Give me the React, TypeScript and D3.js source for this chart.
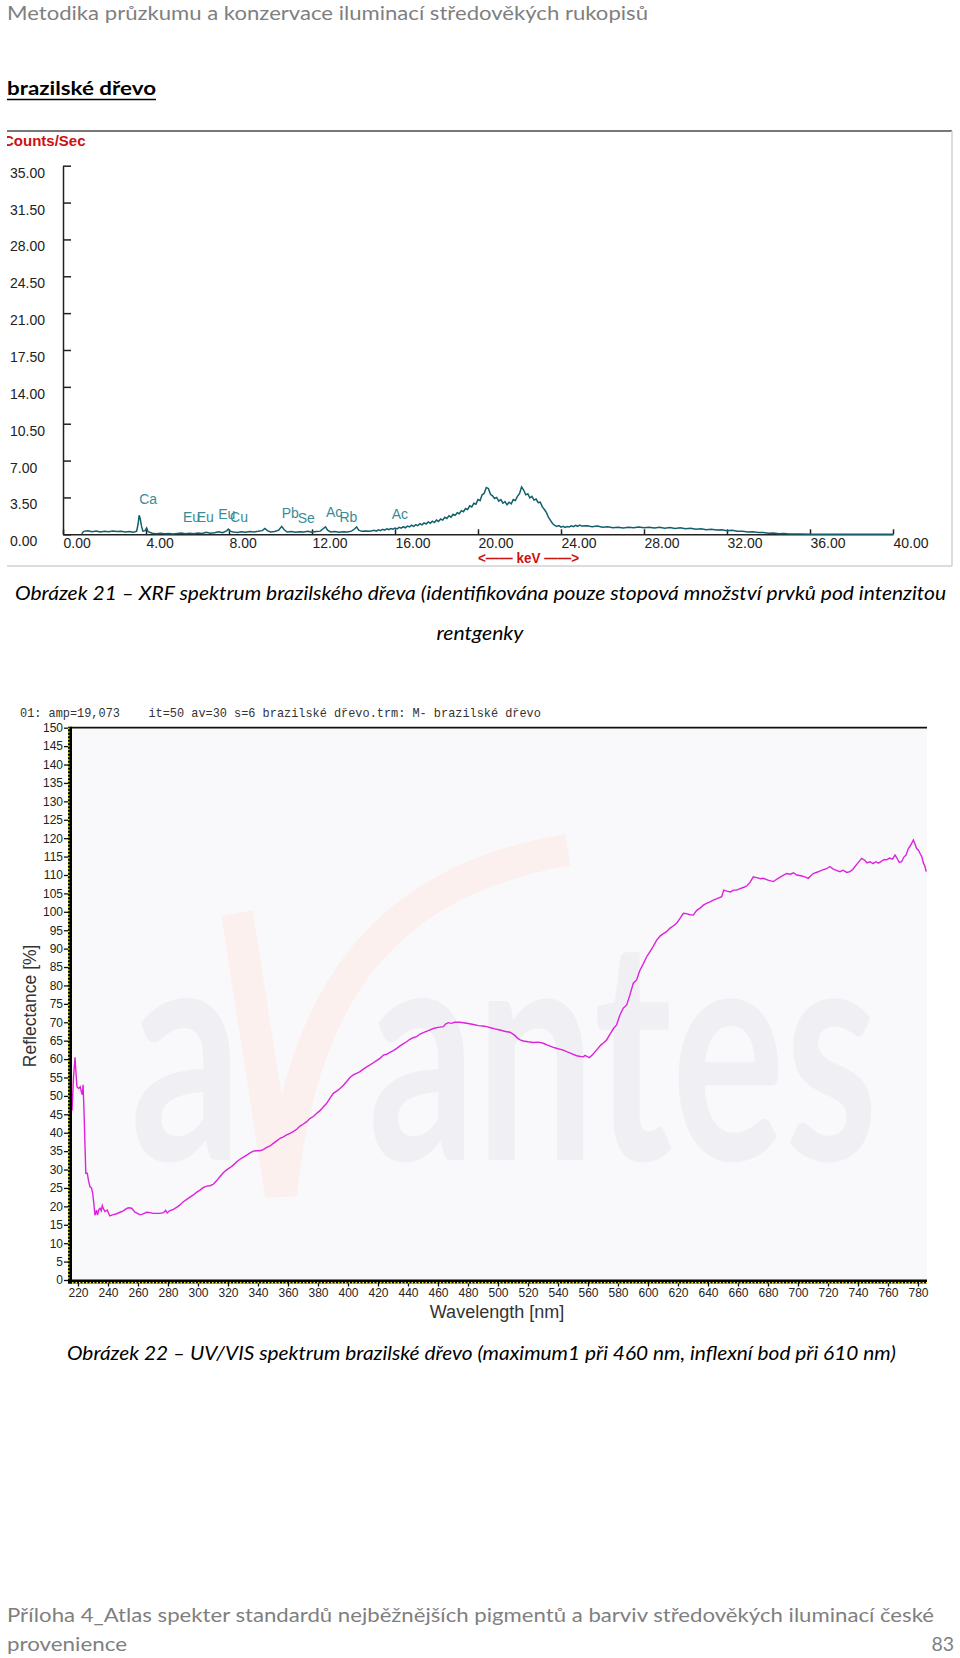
import React, { useRef, useEffect } from "react";
import * as d3 from "d3";

// XRF spectrum of brazilwood, [keV, counts/sec]
const xrfSpectrum: [number, number][] = [
  [0.9, 0.05], [1.0, 0.28], [1.2, 0.34], [1.4, 0.24], [1.6, 0.32], [1.8, 0.22], [2.0, 0.3], [2.2, 0.24],
  [2.4, 0.32], [2.6, 0.26], [2.8, 0.3], [3.0, 0.22], [3.2, 0.26], [3.4, 0.2], [3.55, 0.3], [3.62, 1.0],
  [3.67, 1.8], [3.72, 1.5], [3.78, 0.8], [3.85, 0.3], [3.95, 0.35], [4.03, 0.6], [4.1, 0.25], [4.3, 0.1],
  [4.5, 0.06], [4.7, 0.1], [4.9, 0.05], [5.1, 0.08], [5.3, 0.04], [5.5, 0.08], [5.7, 0.12], [5.9, 0.06],
  [6.1, 0.1], [6.3, 0.06], [6.5, 0.12], [6.7, 0.08], [6.9, 0.2], [7.1, 0.1], [7.3, 0.15], [7.5, 0.25],
  [7.7, 0.15], [7.9, 0.35], [7.97, 0.5], [8.05, 0.3], [8.2, 0.22], [8.4, 0.18], [8.6, 0.24], [8.8, 0.2],
  [9.0, 0.26], [9.2, 0.22], [9.4, 0.28], [9.6, 0.35], [9.73, 0.55], [9.85, 0.35], [10.0, 0.22], [10.2, 0.26],
  [10.4, 0.4], [10.54, 0.75], [10.65, 0.45], [10.8, 0.22], [11.0, 0.26], [11.2, 0.2], [11.4, 0.24], [11.6, 0.22],
  [11.8, 0.28], [12.0, 0.2], [12.2, 0.26], [12.4, 0.3], [12.55, 0.55], [12.65, 0.7], [12.75, 0.4], [12.9, 0.22],
  [13.1, 0.26], [13.3, 0.2], [13.5, 0.24], [13.7, 0.22], [13.9, 0.3], [14.05, 0.5], [14.15, 0.7], [14.25, 0.4],
  [14.4, 0.28], [14.6, 0.32], [14.8, 0.3],
  [15.0, 0.38], [15.1, 0.3], [15.2, 0.42], [15.3, 0.35], [15.4, 0.48], [15.5, 0.4], [15.6, 0.52], [15.7, 0.45],
  [15.8, 0.55], [15.9, 0.48], [16.0, 0.6], [16.1, 0.52], [16.2, 0.66], [16.3, 0.58], [16.4, 0.72], [16.5, 0.62],
  [16.6, 0.78], [16.7, 0.7], [16.8, 0.86], [16.9, 0.76], [17.0, 0.92], [17.1, 0.82], [17.2, 1.0], [17.3, 0.9],
  [17.4, 1.08], [17.5, 0.98], [17.6, 1.18], [17.7, 1.05], [17.8, 1.25], [17.9, 1.12], [18.0, 1.35], [18.1, 1.22],
  [18.2, 1.45], [18.3, 1.35], [18.4, 1.62], [18.5, 1.5], [18.6, 1.75], [18.7, 1.62], [18.8, 1.9], [18.9, 1.8],
  [19.0, 2.05], [19.1, 1.95], [19.2, 2.25], [19.3, 2.15], [19.4, 2.45], [19.5, 2.35], [19.6, 2.7], [19.7, 2.6],
  [19.8, 2.95], [19.9, 2.85], [20.0, 3.3], [20.1, 3.2], [20.2, 3.75], [20.3, 3.9], [20.4, 4.45], [20.5, 4.35],
  [20.6, 3.8], [20.7, 3.65], [20.8, 3.4], [20.9, 3.5], [21.0, 3.15], [21.1, 3.3], [21.2, 2.95], [21.3, 3.1],
  [21.4, 2.8], [21.5, 3.05], [21.6, 2.9], [21.7, 3.3], [21.8, 3.2], [21.9, 3.6], [22.0, 3.85], [22.1, 4.5],
  [22.2, 4.2], [22.3, 3.75], [22.4, 3.85], [22.5, 3.45], [22.6, 3.6], [22.7, 3.25], [22.8, 3.35], [22.9, 3.0],
  [23.0, 3.05], [23.1, 2.6], [23.2, 2.35], [23.3, 2.05], [23.4, 1.6], [23.5, 1.3], [23.6, 1.0], [23.7, 0.85],
  [23.8, 0.75], [23.9, 0.82], [24.0, 0.68], [24.1, 0.76], [24.2, 0.66], [24.3, 0.74], [24.4, 0.7], [24.5, 0.8],
  [24.6, 0.72], [24.7, 0.85], [24.8, 0.76], [24.9, 0.88], [25.0, 0.78],
  [25.25, 0.82], [25.5, 0.72], [25.75, 0.78], [26.0, 0.66], [26.25, 0.72], [26.5, 0.62], [26.75, 0.68], [27.0, 0.6],
  [27.25, 0.66], [27.5, 0.62], [27.75, 0.7], [28.0, 0.63], [28.25, 0.68], [28.5, 0.6], [28.75, 0.66], [29.0, 0.58],
  [29.25, 0.64], [29.5, 0.56], [29.75, 0.62], [30.0, 0.52], [30.25, 0.58], [30.5, 0.48], [30.75, 0.52], [31.0, 0.44],
  [31.25, 0.48], [31.5, 0.4], [31.75, 0.42], [32.0, 0.34], [32.25, 0.38], [32.5, 0.28], [32.75, 0.3], [33.0, 0.22],
  [33.25, 0.24], [33.5, 0.16], [33.75, 0.16], [34.0, 0.1], [34.25, 0.12], [34.5, 0.06], [34.75, 0.07], [35.0, 0.03],
  [35.5, 0.02], [36.0, 0], [40.0, 0],
];

const xrfTicksX = [0, 4, 8, 12, 16, 20, 24, 28, 32, 36, 40];
const xrfTicksY = [0, 3.5, 7, 10.5, 14, 17.5, 21, 24.5, 28, 31.5, 35];

// element line markers: name, energy (keV), label height (counts/sec)
const xrfElements = ["Ca", "Eu", "Eu", "Eu", "Cu", "Pb", "Se", "Ac", "Rb", "Ac"];
const xrfElementKeV = [3.67, 5.78, 6.44, 7.48, 8.05, 10.54, 11.31, 12.67, 13.32, 15.84];
const xrfElementLevel = [2.85, 1.14, 1.14, 1.43, 1.14, 1.52, 1.05, 1.62, 1.14, 1.43];

// UV/VIS reflectance, [nm, %]
const uvSpectrum: [number, number][] = [
  [216, 46], [217, 55], [218, 60.5], [218.7, 56], [219.3, 52.5], [220.5, 52], [221.5, 52.5], [222.3, 51],
  [222.9, 50.3], [223.4, 53], [224, 46], [224.7, 36], [225.2, 29], [226.2, 29], [227, 27], [228, 25.3],
  [229, 25], [229.8, 23.5], [230.5, 21], [231.3, 17.6], [232.4, 19], [233, 17.6], [234, 19.2], [234.7, 19.5],
  [235.5, 18.8], [236.2, 20.2], [237, 19.3], [238, 18.6], [239.5, 19], [240.5, 18], [241.3, 17.4], [243, 17.7],
  [245.8, 18], [248, 18.4], [250.2, 18.8], [252, 19.3], [253.5, 19.6], [255.8, 19.5], [257, 18.9], [258, 18.4],
  [260, 18], [261.3, 17.7], [263, 17.9], [265.8, 18.4], [268, 18.3], [270.2, 18.1], [274.7, 18.1], [277, 18.3],
  [278.4, 18.9], [279.5, 18.2], [281, 18.8], [283.6, 19.2], [286, 19.8], [288, 20.4], [290, 21.2], [292.5, 21.9],
  [294.7, 22.5], [296.9, 23.1], [299, 23.8], [301.3, 24.4], [303.5, 25.1], [305.8, 25.5], [308, 25.6], [310.2, 26],
  [312.5, 27], [314.7, 28.1], [317, 29.2], [319.1, 29.9], [321.3, 30.5], [323.5, 31.2], [326, 32.2], [328, 32.8],
  [330, 33.3], [332.5, 33.9], [334.7, 34.5], [336.9, 35], [339, 35.1], [341.3, 35.1], [343.5, 35.4], [345.8, 36],
  [348, 36.4], [350.2, 37.1], [352.5, 37.8], [354.7, 38.5], [357, 38.9], [359.1, 39.4], [361.3, 39.8], [363.5, 40.3],
  [366, 41], [368, 41.8], [370, 42.3], [372.5, 43], [374.7, 43.9], [376.9, 44.4], [379, 45.2], [381.3, 46],
  [383.5, 47], [385.8, 48], [388, 49.4], [390.2, 50.7], [392.5, 51.3], [394.7, 52], [397, 52.9], [399.1, 53.9],
  [401.3, 55], [403.5, 55.7], [406, 56.2], [408, 56.6], [410, 57.2], [412.5, 57.9], [415, 58.5], [416.9, 59],
  [419, 59.6], [421.3, 60.2], [423.6, 61.1], [425.8, 61.3], [428, 61.8], [430.2, 62.3], [432.5, 62.9], [434.7, 63.6],
  [437, 64.2], [439.1, 64.7], [441, 65.3], [443.5, 65.8], [445.8, 66.1], [448, 66.8], [451, 67.3], [454, 67.8],
  [456.9, 68.3], [460, 68.6], [463.6, 68.8], [465, 69.5], [466.9, 69.9], [469, 69.7], [471, 70], [474.7, 70],
  [478, 69.8], [481, 69.6], [483.6, 69.4], [487, 69.1], [490, 69], [492.4, 68.8], [495, 68.5], [498, 68.2],
  [501.3, 67.9], [505, 67.5], [508, 67.3], [511, 66.5], [513, 65.7], [514.7, 65.2], [517, 64.9], [520, 64.7],
  [523.6, 64.5], [527, 64.6], [530.2, 64.3], [533, 63.8], [536.9, 63.2], [540, 62.8], [543, 62.5], [545.8, 62],
  [549, 61.5], [552.4, 60.9], [555, 60.7], [556.9, 60.6], [558, 61], [559.5, 60.7], [560.9, 60.4], [563, 61.2],
  [565.8, 62.5], [568.5, 63.8], [570, 64.3], [572.4, 65.2], [575, 67], [577, 68.3], [579.1, 69.3], [581.3, 72],
  [583.5, 73.8], [585.8, 74.7], [588, 77.5], [590.2, 80.6], [592.4, 81.5], [594.5, 84], [597, 86], [599.1, 87.8],
  [601, 89], [603.5, 90.6], [605.8, 92.3], [608, 93.4], [610, 94], [612.4, 94.6], [614.5, 95.5], [617, 96.2],
  [619.1, 96.9], [621, 98], [623.6, 99.6], [625.5, 99.5], [628, 99.2], [630.2, 99.1], [632.5, 100.4], [634.7, 101],
  [636.9, 101.8], [639, 102.3], [641.3, 102.7], [643.6, 103.2], [646, 103.6], [649.1, 104.1], [650.5, 105.9], [652.5, 105.6],
  [655, 105.4], [657, 105.9], [659.1, 105.9], [661, 106.2], [663.5, 106.6], [665.8, 107], [668, 108], [670.2, 109.5],
  [672.5, 109.3], [675, 109], [676.9, 109.1], [680, 108.6], [683.6, 108.2], [686, 108.9], [689, 109.6], [692.4, 110.4],
  [695, 110.2], [697, 110.6], [699.1, 110], [702, 109.8], [704.5, 109.5], [706.9, 109.1], [708.5, 109.8], [710.2, 110.4],
  [713, 110.8], [716, 111.3], [719, 111.7], [721.3, 112.3], [723.5, 111.6], [726, 111.2], [728, 110.9], [730, 111.3],
  [732.5, 110.7], [734.7, 110.9], [736.5, 111.5], [738, 112.3], [740, 113.3], [742.4, 114.5], [744.5, 114], [746, 113.3],
  [748, 113.6], [750, 113.1], [752, 113.6], [753.6, 113.2], [755.5, 113.7], [757.5, 114.2], [759.1, 114.1], [761, 114.6],
  [763, 114.3], [764.7, 115.4], [766, 114.6], [767.5, 113.4], [769.1, 113.6], [770.5, 114.8], [772, 115.4], [773.6, 117.2],
  [775, 118], [776.9, 119.5], [778, 118.4], [779.1, 117.2], [780.2, 116.8], [781.3, 115.9], [782.5, 115], [783.6, 113.2],
  [784.5, 112.5], [785.5, 110.9],
];

const uvTicksX = [220, 240, 260, 280, 300, 320, 340, 360, 380, 400, 420, 440, 460, 480, 500,
  520, 540, 560, 580, 600, 620, 640, 660, 680, 700, 720, 740, 760, 780];
const uvTicksY = d3.range(0, 151, 5);

const SANS = "'Liberation Sans', Arial, sans-serif";
const BODY = "Lato, 'Open Sans', sans-serif";

const App = () => {
  const svgRef = useRef<SVGSVGElement>(null);

  useEffect(() => {
    const svg = d3.select(svgRef.current);
    svg.selectAll("*").remove();
    const defs = svg.append("defs");

    // ---- page text ----
    const pageText = (x: number, y: number, str: string, o: any = {}) => {
      const t = svg
        .append("text")
        .attr("x", x)
        .attr("y", y)
        .attr("font-family", BODY)
        .attr("font-size", o.size || 19.5)
        .attr("fill", o.fill || "#000")
        .text(str);
      if (o.italic) t.attr("font-style", "italic");
      if (o.bold) t.attr("font-weight", "bold");
      if (o.anchor) t.attr("text-anchor", o.anchor);
      if (o.len) t.attr("textLength", o.len).attr("lengthAdjust", "spacingAndGlyphs");
      return t;
    };

    pageText(7, 20, "Metodika průzkumu a konzervace iluminací středověkých rukopisů", { fill: "#7f7f7f", len: 641 });
    pageText(7, 95, "brazilské dřevo", { bold: true, len: 149 });
    svg.append("line").attr("x1", 7).attr("x2", 156).attr("y1", 99.5).attr("y2", 99.5)
      .attr("stroke", "#000").attr("stroke-width", 1.4);
    pageText(15, 600, "Obrázek 21 – XRF spektrum brazilského dřeva (identifikována pouze stopová množství prvků pod intenzitou", { italic: true, len: 931 });
    pageText(480, 640, "rentgenky", { italic: true, anchor: "middle", len: 87 });
    pageText(67, 1360, "Obrázek 22 – UV/VIS spektrum brazilské dřevo (maximum1 při 460 nm, inflexní bod při 610 nm)", { italic: true, len: 829 });
    pageText(7, 1622, "Příloha 4_Atlas spekter standardů nejběžnějších pigmentů a barviv středověkých iluminací české", { fill: "#7f7f7f", len: 927 });
    pageText(7, 1651, "provenience", { fill: "#7f7f7f", len: 120 });
    pageText(954, 1651, "83", { fill: "#7f7f7f", anchor: "end" });

    // ---- XRF spectrum ----
    defs.append("clipPath").attr("id", "xrfClip")
      .append("rect").attr("x", 7).attr("y", 120).attr("width", 950).attr("height", 450);
    const xrf = svg.append("g").attr("clip-path", "url(#xrfClip)");

    xrf.append("line").attr("x1", 7).attr("x2", 952).attr("y1", 131).attr("y2", 131)
      .attr("stroke", "#4a4a4a").attr("stroke-width", 1.5);
    xrf.append("line").attr("x1", 952).attr("x2", 952).attr("y1", 131).attr("y2", 566)
      .attr("stroke", "#d0d0d0").attr("stroke-width", 1.5);
    xrf.append("line").attr("x1", 7).attr("x2", 952).attr("y1", 566).attr("y2", 566)
      .attr("stroke", "#d0d0d0").attr("stroke-width", 1.5);

    xrf.append("text").attr("x", 3).attr("y", 146).text("Counts/Sec")
      .attr("font-family", SANS).attr("font-weight", "bold").attr("font-size", 15).attr("fill", "#cc1111");

    const x = d3.scaleLinear().domain([0, 40]).range([63, 893]);
    const y = d3.scaleLinear().domain([0, 35]).range([534.3, 165.7]);

    const xAxis = xrf.append("g").attr("transform", `translate(0,${y(0)})`)
      .call(d3.axisBottom(x).tickValues(xrfTicksX).tickSize(-5).tickSizeOuter(0).tickPadding(4).tickFormat(d3.format(".2f")));
    const yAxis = xrf.append("g").attr("transform", `translate(${x(0)},0)`)
      .call(d3.axisLeft(y).tickValues(xrfTicksY).tickSize(-8).tickSizeOuter(0).tickPadding(0).tickFormat(d3.format(".2f")));
    [xAxis, yAxis].forEach((a) => {
      a.select(".domain").attr("stroke", "#222").attr("stroke-width", 1.5);
      a.selectAll(".tick line").attr("stroke", "#222").attr("stroke-width", 1.5);
      a.selectAll("text").attr("text-anchor", "start").attr("font-family", SANS)
        .attr("font-size", 14).attr("fill", "#222");
    });
    yAxis.selectAll("text").attr("x", -53).attr("y", 7);

    xrf.append("path").datum(xrfSpectrum)
      .attr("d", d3.line<[number, number]>().x((d) => x(d[0])).y((d) => y(d[1])))
      .attr("fill", "none").attr("stroke", "#12606d").attr("stroke-width", 1.5);

    xrf.selectAll(".el").data(xrfElements).join("text")
      .attr("class", "el")
      .attr("x", (d, i) => x(xrfElementKeV[i]))
      .attr("y", (d, i) => y(xrfElementLevel[i]))
      .attr("font-family", SANS).attr("font-size", 14).attr("fill", "#3a8b98")
      .text((d) => d);

    xrf.append("text").attr("x", 478).attr("y", 563).text("<—— keV ——>")
      .attr("font-family", SANS).attr("font-weight", "bold").attr("font-size", 14).attr("fill", "#cc1111")
      .attr("textLength", 101).attr("lengthAdjust", "spacingAndGlyphs");

    // ---- UV/VIS reflectance ----
    const ux = d3.scaleLinear().domain([216, 786]).range([72, 927]);
    const uy = d3.scaleLinear().domain([0, 150]).range([1280, 727.7]);
    const [px0, px1] = ux.range();
    const [py0, py1] = uy.range();

    svg.append("text").attr("x", 20).attr("y", 717)
      .attr("font-family", "'Liberation Mono', 'DejaVu Sans Mono', monospace")
      .attr("font-size", 11.9).attr("fill", "#333").style("white-space", "pre")
      .text("01: amp=19,073    it=50 av=30 s=6 brazilské dřevo.trm: M- brazilské dřevo");

    svg.append("rect").attr("x", px0).attr("y", py1).attr("width", px1 - px0).attr("height", py0 - py1)
      .attr("fill", "#f9f9fb");

    // faint avantes watermark
    const wm = svg.append("g");
    wm.append("path").attr("d", "M237,913 L281,1195 C300,1000 380,880 568,850")
      .attr("fill", "none").attr("stroke", "#fcf0ee").attr("stroke-width", 32);
    wm.append("text").attr("x", 130).attr("y", 1160).text("a")
      .attr("font-family", BODY).attr("font-weight", "bold").attr("font-size", 310).attr("fill", "#f0f0f4")
      .attr("textLength", 112).attr("lengthAdjust", "spacingAndGlyphs");
    wm.append("text").attr("x", 368).attr("y", 1160).text("antes")
      .attr("font-family", BODY).attr("font-weight", "bold").attr("font-size", 310).attr("fill", "#f0f0f4")
      .attr("textLength", 510).attr("lengthAdjust", "spacingAndGlyphs");

    svg.append("line").attr("x1", px0 - 2).attr("x2", px1).attr("y1", py1).attr("y2", py1)
      .attr("stroke", "#111").attr("stroke-width", 1.8);

    svg.append("path").datum(uvSpectrum)
      .attr("d", d3.line<[number, number]>().x((d) => ux(d[0])).y((d) => uy(d[1])))
      .attr("fill", "none").attr("stroke", "#dd22dd").attr("stroke-width", 1.4);

    const uxAxis = svg.append("g").attr("transform", `translate(0,${py0 + 1.5})`)
      .call(d3.axisBottom(ux).tickValues(uvTicksX).tickSize(5).tickSizeOuter(0).tickPadding(2));
    const uyAxis = svg.append("g").attr("transform", `translate(${px0 - 2},0)`)
      .call(d3.axisLeft(uy).tickValues(uvTicksY).tickSize(6).tickSizeOuter(0).tickPadding(1));
    [uxAxis, uyAxis].forEach((a) => {
      a.select(".domain").remove();
      a.selectAll(".tick line").attr("stroke", "#111").attr("stroke-width", 1.3);
      a.selectAll("text").attr("font-family", SANS).attr("font-size", 12).attr("fill", "#222");
    });

    // thick axis lines with yellow dotted minor marks
    svg.append("line").attr("x1", px0 - 2).attr("x2", px0 - 2).attr("y1", py1 - 1).attr("y2", py0 + 3.5)
      .attr("stroke", "#000").attr("stroke-width", 4);
    svg.append("line").attr("x1", px0 - 4).attr("x2", px1).attr("y1", py0 + 1.5).attr("y2", py0 + 1.5)
      .attr("stroke", "#000").attr("stroke-width", 4);
    svg.append("line").attr("x1", px0 - 3.2).attr("x2", px0 - 3.2).attr("y1", py1).attr("y2", py0)
      .attr("stroke", "#eeee22").attr("stroke-width", 1.4).attr("stroke-dasharray", "1.5 2");
    svg.append("line").attr("x1", px0).attr("x2", px1).attr("y1", py0 + 2.7).attr("y2", py0 + 2.7)
      .attr("stroke", "#eeee22").attr("stroke-width", 1.4).attr("stroke-dasharray", "1.5 2");

    svg.append("text")
      .attr("transform", `translate(36,${(py0 + py1) / 2 + 2}) rotate(-90)`)
      .attr("text-anchor", "middle").attr("font-family", SANS).attr("font-size", 17.5).attr("fill", "#333")
      .text("Reflectance [%]");
    svg.append("text").attr("x", 497).attr("y", 1318)
      .attr("text-anchor", "middle").attr("font-family", SANS).attr("font-size", 18).attr("fill", "#333")
      .text("Wavelength [nm]");
  }, []);

  return (
    <svg
      ref={svgRef}
      width={960}
      height={1658}
      style={{ position: "absolute", left: 0, top: 0, background: "#fff" }}
    />
  );
};

export default App;
